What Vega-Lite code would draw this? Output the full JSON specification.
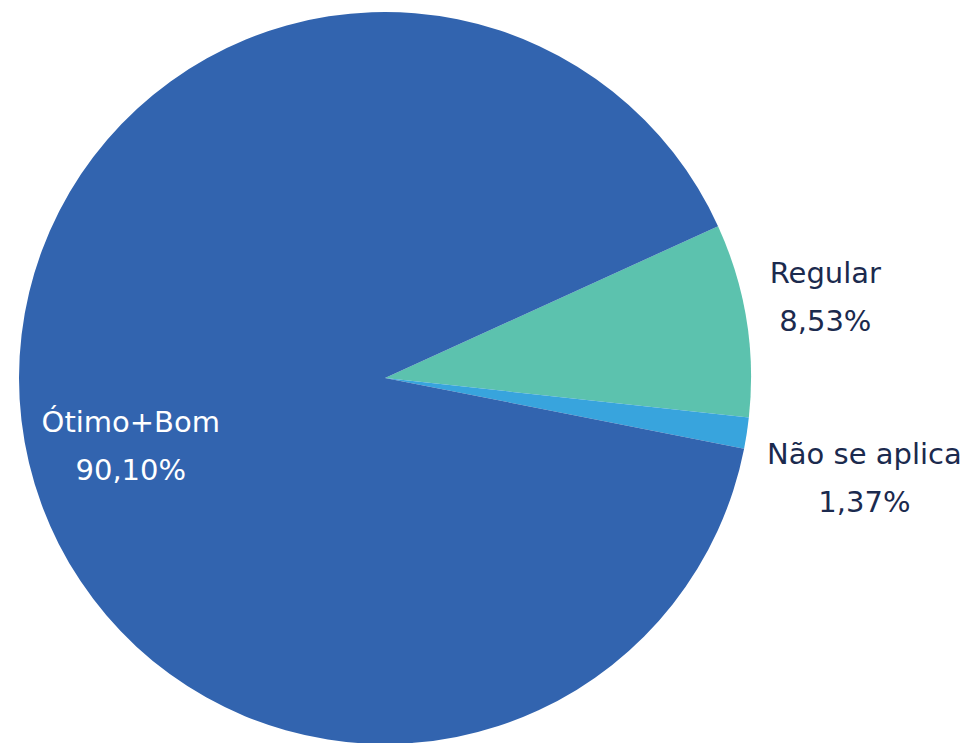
{
  "$schema": "https://vega.github.io/schema/vega-lite/v6.json",
  "width": 770,
  "height": 730,
  "autosize": {"type": "none"},
  "padding": {"left": 0, "top": 13, "right": 210, "bottom": 0},
  "background": "white",
  "config": {"view": {"stroke": null}},
  "data": {
    "values": [
      {"cat": "Regular", "pct": 8.53, "ord": 1, "label": "Regular\n8,53%"},
      {"cat": "Não se aplica", "pct": 1.37, "ord": 2, "label": "Não se aplica\n1,37%"},
      {"cat": "Ótimo+Bom", "pct": 90.10, "ord": 3, "label": "Ótimo+Bom\n90,10%"}
    ]
  },
  "encoding": {
    "theta": {"field": "pct", "type": "quantitative", "stack": true, "scale": {"range": [1.1432, 7.4264]}},
    "order": {"field": "ord", "type": "quantitative"},
    "detail": {"field": "cat", "type": "nominal"}
  },
  "layer": [
    {
      "mark": {"type": "arc", "outerRadius": 366},
      "encoding": {
        "color": {
          "field": "cat", "type": "nominal", "legend": null,
          "scale": {"domain": ["Ótimo+Bom", "Regular", "Não se aplica"], "range": ["#3264AF", "#5CC2AE", "#38A4DD"]}
        }
      }
    },
    {
      "mark": {"type": "text", "radius": 446, "dy": -33, "font": "DejaVu Sans", "fontSize": 29, "lineBreak": "\n", "lineHeight": 48, "align": "center", "baseline": "middle", "color": "#1B2A4E"},
      "encoding": {"text": {"field": "label", "type": "nominal", "condition": {"test": "datum.cat !== 'Regular'", "value": ""}}}
    },
    {
      "mark": {"type": "text", "radius": 488, "dx": -3, "dy": 3, "font": "DejaVu Sans", "fontSize": 29, "lineBreak": "\n", "lineHeight": 48, "align": "center", "baseline": "middle", "color": "#1B2A4E"},
      "encoding": {"text": {"field": "label", "type": "nominal", "condition": {"test": "datum.cat !== 'Não se aplica'", "value": ""}}}
    },
    {
      "mark": {"type": "text", "radius": 263, "dx": 7, "dy": 14, "font": "DejaVu Sans", "fontSize": 29, "lineBreak": "\n", "lineHeight": 48, "align": "center", "baseline": "middle", "color": "#FFFFFF"},
      "encoding": {"text": {"field": "label", "type": "nominal", "condition": {"test": "datum.cat !== 'Ótimo+Bom'", "value": ""}}}
    }
  ]
}
